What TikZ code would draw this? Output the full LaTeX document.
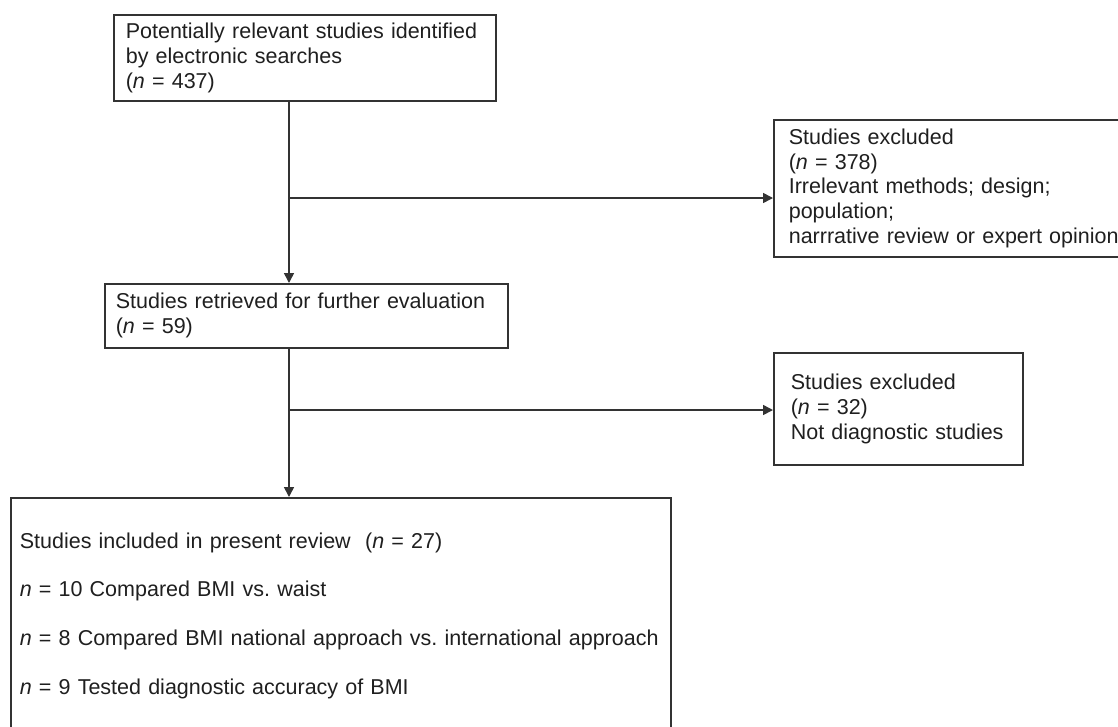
\documentclass[tikz,border=0pt]{standalone}
\usepackage{fontspec}
\setmainfont{Liberation Sans}
\usetikzlibrary{arrows.meta}
\definecolor{cgray}{rgb}{0.2, 0.2, 0.2}
\definecolor{ctext}{rgb}{0.12, 0.12, 0.12}
\frenchspacing

\begin{document}
\begin{tikzpicture}[>={Triangle[length=10pt,width=10pt]},x=1pt,y=-1pt,
  line width=1.6pt,
  flow box/.style={rectangle,draw=cgray,anchor=north west,align=left,text=ctext,
    font=\fontsize{21.5}{24.8}\selectfont,inner ysep=0pt},
  link/.style={->,cgray}]
  \useasboundingbox (0,0) rectangle (1118,726);

  \node[flow box,inner xsep=12pt,text width=358pt,minimum height=86pt] (search) at (113,14)
    {Potentially relevant studies identified\\by electronic searches\\(\textit{n} = 437)};
  \node[flow box,inner xsep=11pt,text width=381pt,minimum height=64pt] (retrieved) at (104,283)
    {Studies retrieved for further evaluation\\(\textit{n} = 59)};
  \node[flow box,inner xsep=15pt,text width=340pt,minimum height=137pt] (excl1) at (773,119)
    {Studies excluded\\(\textit{n} = 378)\\Irrelevant methods; design;\\population;\\narrrative review or expert opinion};
  \node[flow box,inner xsep=17pt,text width=215pt,minimum height=112pt] (excl2) at (773,352)
    {Studies excluded\\(\textit{n} = 32)\\Not diagnostic studies};
  \node[flow box,inner xsep=9pt,text width=642pt,minimum height=236pt] (included) at (10,497)
    {Studies included in present review~ (\textit{n} = 27)\\[24pt]
     \textit{n} = 10 Compared BMI vs. waist\\[24pt]
     \textit{n} = 8 Compared BMI national approach vs. international approach\\[24pt]
     \textit{n} = 9 Tested diagnostic accuracy of BMI};

  \coordinate (split1) at (289,198);
  \coordinate (split2) at (289,410);

  \draw[link] (search.south -| split1) -- (retrieved.north -| split1);
  \draw[link] (split1) -- (split1 -| excl1.west);
  \draw[link] (retrieved.south -| split2) -- (included.north -| split2);
  \draw[link] (split2) -- (split2 -| excl2.west);
\end{tikzpicture}
\end{document}
